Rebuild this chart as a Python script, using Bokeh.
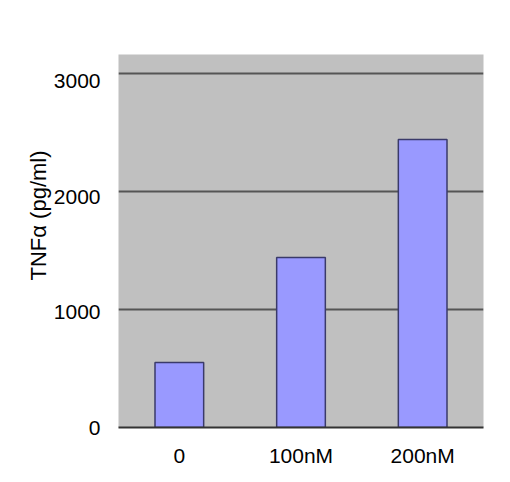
from bokeh.plotting import figure
from bokeh.models import Range1d, FactorRange, FixedTicker, Title
from bokeh.embed import file_html
from bokeh.resources import INLINE

categories = ["0", "100nM", "200nM"]
tnf_values = [550, 1440, 2440]
y_ticks = [0, 1000, 2000, 3000]

FONT = "'Liberation Sans', Arial, sans-serif"

p = figure(
    x_range=FactorRange(*categories, range_padding=0),
    y_range=Range1d(0, 3160),
    frame_width=365, frame_height=373,
    output_backend="svg", toolbar_location=None,
    min_border_left=118, min_border_right=11, min_border_top=54, min_border_bottom=30,
)
# separate label scale for the y tick labels (they sit slightly off the grid in the original)
p.extra_y_ranges = {"lab": Range1d(0, 3234)}

p.background_fill_color = "#c0c0c0"
p.border_fill_color = "white"
p.outline_line_color = None

p.vbar(x=categories, top=tnf_values, width=0.4, bottom=0,
       fill_color="#9999ff", line_color="#3a3a6a", line_width=1.5)

p.xgrid.grid_line_color = None
p.ygrid.ticker = FixedTicker(ticks=y_ticks)
p.ygrid.grid_line_color = "#555555"
p.ygrid.grid_line_width = 2

p.yaxis.y_range_name = "lab"
p.yaxis.ticker = FixedTicker(ticks=y_ticks)
p.yaxis.axis_line_color = None
p.yaxis.major_tick_line_color = None
p.yaxis.minor_tick_line_color = None
p.yaxis.major_label_standoff = 12
p.yaxis.major_label_text_font = FONT
p.yaxis.major_label_text_font_size = "21px"
p.yaxis.major_label_text_color = "black"

p.xaxis.axis_line_color = "#333333"
p.xaxis.axis_line_width = 2
p.xaxis.major_tick_line_color = None
p.xaxis.minor_tick_line_color = None
p.xaxis.major_label_standoff = 10
p.xaxis.major_label_text_font = FONT
p.xaxis.major_label_text_font_size = "21px"
p.xaxis.major_label_text_color = "black"

p.add_layout(Title(text="TNF\u03b1 (pg/ml)", align="left", offset=147,
                   text_font=FONT, text_font_size="22px", text_font_style="normal",
                   text_color="black", standoff=0), "left")

open("out.html", "w").write(file_html(p, INLINE))
